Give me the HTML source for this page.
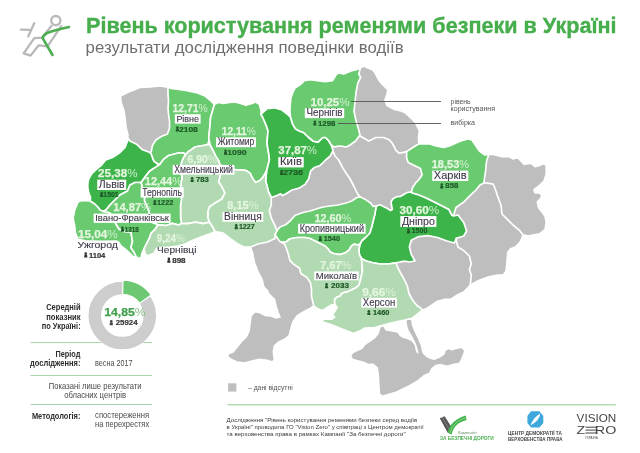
<!DOCTYPE html><html><head><meta charset="utf-8"><title>Рівень користування ременями безпеки в Україні</title>
<style>html,body{margin:0;padding:0;background:#fff;width:640px;height:453px;overflow:hidden}svg{display:block}text{font-family:"Liberation Sans","DejaVu Sans",sans-serif}</style></head><body>
<svg width="640" height="453" viewBox="0 0 640 453">
<rect width="640" height="453" fill="#fff"/>
<g fill="none" stroke-linecap="round" stroke-linejoin="round">
<circle cx="55.8" cy="20.6" r="4.6" stroke="#b9b9b9" stroke-width="2.3"/>
<path d="M51.4,26 L42,37.6 L34.3,38.1 L23.6,53.4 L30.6,55.6 L38.7,45.3 L47.5,46.4 L61.2,26.2" stroke="#b9b9b9" stroke-width="2.3"/>
<path d="M20.8,29.6 L29.6,29.8 M34.2,23.2 L28.2,36.4" stroke="#b9b9b9" stroke-width="2.3"/>
<path d="M69,27 Q55,30 47,33 Q43.5,35 42.5,37.8 L52.5,55" stroke="#4cae50" stroke-width="2.6"/>
</g>
<text x="86" y="33.2" font-size="21.6" font-weight="bold" fill="#46ae4c" stroke="#46ae4c" stroke-width="0.35" textLength="530.5" lengthAdjust="spacingAndGlyphs">Рівень користування ременями безпеки в Україні</text>
<text x="85.6" y="53.1" font-size="16.4" fill="#6e6e6e" textLength="318" lengthAdjust="spacingAndGlyphs">результати дослідження поведінки водіїв</text>
<g stroke="#fff" stroke-width="1.7" stroke-linejoin="round">
<polygon points="121,102.5 120.5,96 127.5,92.5 135,89.5 140,87.5 150,87 160,86 166.5,87 171,88.4 178.75,89.4 186,90.3 197.5,93 205,96 210.6,100.6 214.4,104.4 218,102.5 223.75,103.4 229.4,102.5 235,102 240.6,103.4 246,105.3 252,103.4 255.6,102 259.4,104.4 261,110 262,114 267,108.75 274.4,107.8 282,110 287.5,114.4 290.5,117 290,112 290,107 291,97.5 293,92 295,88 300.6,84.4 304.4,80.6 310,79.7 317.5,80.6 325,81.6 332.5,80.6 336,75 338,73 343.75,74 351,71 357,69.4 360.6,67.5 364.4,66.25 368,68 372.8,70 375.6,73.75 378.4,79.4 381,83 385,87 387.8,89.7 387,94.4 385,100 387,105.6 394.4,109.4 402,111.25 405.6,113 409.4,116.5 412,119 415.6,123 419.4,130.6 418.4,138 419,143.9 423.6,143.9 430,144 436,146 443.75,147.5 449.4,146 455,143.5 460.6,141 468,139 472,140 475.6,145.6 479.4,151 485,155 488.8,154.4 493.25,154.4 502,156.6 508.7,156.6 513,158.8 517.5,157.7 521,161 524,164.3 530.8,163.2 535.2,166.6 539.6,165.5 544,163.2 546.2,165.5 546.2,174.3 544,181 539.6,185.3 534,189.7 535.2,193 539.6,193 541.8,195.25 540.7,198.6 537.4,201.9 538.5,207.4 541.8,211.8 545.1,216.2 546.2,222.8 545.1,229.5 539.6,233.9 533,235 528.6,236.1 524.15,235 522,238.3 519.7,242.7 515.3,247 510.6,248.75 507.8,252.5 507,262 506,271.25 503,275 497.5,275 488,277 478.75,280.6 471.25,284.4 469.4,286 463.75,292 456.25,295.6 450.6,299.4 445,299.4 437.5,301.25 432,305 426.25,308.75 422.5,310 417,314.5 412.5,318 405,320 397.5,321.5 390,323.3 382.5,325.3 375,327.5 365,328 359,331.4 353.5,333.6 348,331.4 342.5,329.2 337,327 331.4,324.7 326,323 321.5,321.4 323.7,319.2 331.4,319.2 334.7,317 332.5,314.8 335.8,309.8 337,307 334.7,304.9 331.4,304.9 328,307 324.8,309.3 321.5,310.4 317,308.2 313.8,306 310.5,308.2 306,310.4 300.5,313.7 297,316 293,322 291.25,327.5 289.4,335 285.6,338.75 282,340.6 278,342.5 274.4,346 273.4,352 274.4,359.4 272.5,362 267,360.3 259.4,359.4 252,361 244.4,363 237,362 231.25,359.4 227.5,356.6 228.4,353.75 233,352 237.8,346 240.6,342.5 246,337 249,331 250,323.75 251,316 254.7,311.6 259.4,312.5 265,315.3 270.6,316 276.25,318 280,317 278,312.5 276.25,307 274.4,299.4 268.75,293.75 266.9,290 263.75,287 262,279.4 258,272 254.4,262.5 252.5,253 250.6,247.5 244,247 237,243.5 230,238.5 223,233 215,231.5 211.6,233.3 205,235.5 197,238.5 190,241.5 185,244 178,246 170,247 162,247.5 157,248 154,253 148.3,255.8 145.5,254.4 144,249 142,253 141.25,257.2 138.4,258.6 136,256.5 133.3,256.8 130.2,253.7 125.6,249.5 121,246 118.5,242 116.5,241 100.9,241.3 85.4,240.8 78,239.3 75.5,233 74.6,225.9 73.1,218.2 74.6,210.4 77.7,202.7 79.3,201.2 83.9,200.4 90,201 90.6,197.5 88.75,192.8 87.8,188 87.8,183.4 88.75,178.75 91.6,174 96.25,169.4 101,165.6 105.6,160 112.5,157.5 120,152.5 125,147.5 127.5,141 127.4,137.3 128,135 126,127.5 125,117.5 123.75,110" fill="#bebebe"/>
<polygon points="380.5,326.4 383.75,325.75 386,329.7 392.5,330.8 398,331.9 400.2,335.2 403.4,337.3 407.8,338.4 412.2,340.6 415.5,345 416.6,350.5 417.7,352.7 416.6,348.3 414.6,342.8 411.2,336.25 407.9,330.8 406.3,325.3 405.6,321 407.3,318.6 411.8,319.2 412.7,325.3 415.4,331.9 418.7,338.4 421.4,345 423.1,352.7 427.5,357 434,359.2 439.5,357 444,353.75 445,350.5 448.3,348.3 451.6,349.8 456,348.3 461.4,347.2 465.1,350.5 463.6,354.8 461.4,360.3 459.2,363.6 452.7,364.7 447.2,366.4 440.6,364.7 435.2,365.8 431.9,369 429.7,373.4 424.2,375.6 417.7,381.1 410,385.5 403.4,388.75 396.9,392 389.2,394.2 382.7,396.4 379.4,394.2 378.9,386.6 378.3,375.6 377.2,368 372.8,364.25 368.4,364.7 364.1,362.5 357.5,360.75 352,359.2 350.5,354.8 354.2,351.6 361.9,348.3 365.2,343.9 370.6,340.6 375,337.3 378.3,333 379.4,328.6" fill="#bebebe"/>
<polygon points="168,87 171,88.4 178.75,89.4 186,90.3 197.5,93 205,96 210.6,100.6 214.4,104.4 213.4,108 210.6,117.5 209.7,128.75 208.75,138 209,140 208,144.4 204.4,145.3 198.75,146.25 195,147 191.7,149.4 188.1,151.8 185.7,154.3 183.3,153 178.4,153 173.5,154.3 168.7,155.5 163.8,159.1 160.2,164 157.8,164 154.1,161.6 152.9,159.1 151.7,155.5 150.5,153 151.5,150.7 152.4,145.4 155.9,140 161.2,136.5 167.5,134 169.5,128 169.5,121 168.5,114 168,108 168.5,101 168,94" fill="#69ca70"/>
<polygon points="214.4,104.4 218,102.5 223.75,103.4 229.4,102.5 235,102 240.6,103.4 246,105.3 252,103.4 255.6,102 259.4,104.4 261,110 261,114 262.8,117.5 264.8,122 266.8,127 268,131 267.5,137 267,143 268,149.5 269,155.6 269.4,160 268,165.5 266.6,171 264,175.5 262,178.4 259.3,181 255.3,182.4 252.7,178.4 250,173.1 246,170.5 240.8,169.8 235.5,169.8 230,168 225,166 222,166.5 219.6,163.8 218.2,159.9 215.6,155.9 213,150.6 210.3,145.3 209,140 208.75,138 209.7,128.75 210.6,117.5 213.4,108" fill="#69ca70"/>
<polygon points="261,114 267,108.75 274.4,107.8 282,110 287.5,114.4 290.5,117 292.8,124.4 295.6,129 299.4,131 304,132.8 308.75,137.5 313.4,141.25 318,142.2 322.8,137.5 325.6,137.5 328.4,140.3 331.25,145 333,150.6 330.3,156 325.6,160 320,165.6 314.4,167.5 310.6,171 308.75,178.75 305,184.4 299.4,188 292,190 286,193.75 282.5,195.6 280.6,193.75 277,195.6 271.25,197.5 268.5,192 267,186 265.6,180.6 266.6,171 268,165.5 269.4,160 269,155.6 268,149.5 267,143 267.5,137 268,131 266.8,127 264.8,122 262.8,117.5" fill="#3db44a"/>
<polygon points="290.5,117 290,112 290,107 291,97.5 293,92 295,88 300.6,84.4 304.4,80.6 310,79.7 317.5,80.6 325,81.6 332.5,80.6 336,75 338,73 343.75,74 351,71 357,69.4 360.6,67.5 358.75,73.75 360.6,77.5 357.8,83 356,92.5 355,102 354,111 356,120.6 358.75,130 360,135 355.6,141 350,145 346.25,147 340.6,146 337,146.4 334,147 331.25,145 328.4,140.3 325.6,137.5 322.8,137.5 318,142.2 313.4,141.25 308.75,137.5 304,132.8 299.4,131 295.6,129 292.8,124.4" fill="#69ca70"/>
<polygon points="406.6,151.6 411.3,148.5 415.9,145.5 419,143.9 423.6,143.9 430,144 436,146 443.75,147.5 449.4,146 455,143.5 460.6,141 468,139 472,140 475.6,145.6 479.4,151 485,155 488.8,154.4 486.6,161 485.5,172 484.4,178.7 484,183 480,185 476,190 471.25,194.4 463.75,202 456,207.5 453.4,216 451.6,215 448.75,209.4 441,205.6 432,201 426,198 418.75,195 412,193 411.3,191.8 412.8,187.2 415.9,182.6 419,179.5 422.1,174.8 420.5,168.6 414.4,165.5 408.2,162.5 406.6,157.8" fill="#69ca70"/>
<polygon points="376.4,206 380,204.8 383.5,206.4 387,208.2 390.6,210.4 392.4,209.5 391.5,205.3 391,201.8 393.3,198.5 396.8,196.7 400.3,196.5 403,194.9 405.6,193.3 408.3,192.3 411.3,191.8 412,193 418.75,195 426,198 432,201 441,205.6 448.75,209.4 451.6,215 453.4,216 458,215 463.75,222.5 466.6,231 463.75,236 456.25,238.4 454.4,243 447,241 437.5,237.5 428,235.6 418.75,236.6 411.25,240.3 409.4,247 411.25,254.4 415,261 409.4,262 404.5,261.2 396,262.8 388,264 380,264 372,262.5 366,261 361.5,258.5 359.5,255 358.8,250 360,244 362,240.5 366,237 369.8,233 371.4,228.1 373,221.5 374.7,214.9 375.6,209.7" fill="#3db44a"/>
<polygon points="275,234.5 277,230.6 280,227 286,224.5 291,220 295,215.5 300,213.5 305,212 310,211 317,208.75 323,207 330,206 338,205 346,203 351.2,201.2 356.5,197.7 360,196.8 365.3,199.4 370.6,203 373,206.3 376.4,206 375.6,209.7 374.7,214.9 373,221.5 371.4,228.1 369.8,233 366,237 362,240.5 360,244 357.7,245 354.2,244.1 351.5,245.9 348.9,250.3 345.3,252.8 340.9,254.3 337.4,254.3 333.8,253.5 330.3,252.1 327.7,248.6 325,246 320,243.5 315,241 310,238.5 305,237.5 297.5,237.5 290,238.75 286,242 280.6,242 278.75,240" fill="#69ca70"/>
<polygon points="280.6,242 286,242 290,238.75 297.5,237.5 305,237.5 310,238.5 315,241 320,243.5 325,246 327.7,248.6 330.3,252.1 333.8,253.5 337.4,254.3 340.9,254.3 345.3,252.8 348.9,250.3 351.5,245.9 354.2,244.1 357.7,245 360,244 358.8,250 359.5,255 361.5,258.5 362,265 362.5,270.3 361,278 359,285 356.8,287.2 352.4,289.4 348,291.6 343.6,292.7 341.4,293.8 340.25,296 337,297.1 334.7,299.3 334.7,304.9 331.4,304.9 328,307 324.8,309.3 321.5,310.4 317,308.2 313.8,306 312.7,301.6 311.5,296 311.5,290 310.6,283 307,277.5 301,273.75 299.4,268 293.75,264.4 290,260.6 288,253 286,247.5 284.4,243.75" fill="#b2dab2"/>
<polygon points="361.5,258.5 366,261 372,262.5 380,264 388,264 396,262.8 398,268 400,272 403.75,278.5 407.3,286 409,293.5 413,300.8 417,305.5 420.6,308 422.5,310 417,314.5 412.5,318 405,320 397.5,321.5 390,323.3 382.5,325.3 375,327.5 365,328 359,331.4 353.5,333.6 348,331.4 342.5,329.2 337,327 331.4,324.7 326,323 321.5,321.4 323.7,319.2 331.4,319.2 334.7,317 332.5,314.8 335.8,309.8 337,307 334.7,304.9 334.7,299.3 337,297.1 340.25,296 341.4,293.8 343.6,292.7 348,291.6 352.4,289.4 356.8,287.2 359,285 361,278 362.5,270.3 362,265" fill="#b2dab2"/>
<polygon points="222,166.5 225,166 230,168 235.5,169.8 240.8,169.8 246,170.5 250,173.1 252.7,178.4 255.3,182.4 259.3,181 262,178.4 264,175.5 266.6,171 265.6,180.6 267,186 268.5,192 271.25,197.5 271.25,205 269.4,210.6 271.25,218 275,225.6 277,230.6 275,234.5 275,238.5 267.5,242 258,244 250.6,247 244,247 237,243.5 230,238.5 223,233 215,231.5 212,226 209.4,222.2 207.8,217.5 207.8,211.4 209.4,206.7 214,203.6 221.7,199 224.8,192.8 221.7,186.6 218.6,182 220.2,175.8 221,171" fill="#b2dab2"/>
<polygon points="185.7,154.3 188.1,151.8 191.7,149.4 195,147 198.75,146.25 204.4,145.3 208,144.4 210.3,145.3 213,150.6 215.6,155.9 218.2,159.9 219.6,163.8 222,166.5 221,171 220.2,175.8 218.6,182 221.7,186.6 224.8,192.8 221.7,199 214,203.6 209.4,206.7 207.8,211.4 207.8,217.5 209.4,222.2 203.2,223.7 195.5,222.2 187.7,223.7 181.5,223.5 180.6,217.5 180.5,206 181.5,198.75 181,191 180.5,185.6 182,178 181,172.5 180,167 182,161 183.3,157.9" fill="#b2dab2"/>
<polygon points="160.2,164 163.8,159.1 168.7,155.5 173.5,154.3 178.4,153 183.3,153 185.7,154.3 183.3,157.9 182,161 180,167 181,172.5 182,178 180.5,185.6 181,191 181.5,198.75 180.5,206 180.6,217.5 181.5,223.5 178.75,225 172.2,223.4 166.6,225.5 158,224.8 156,224 152,222.4 150,217 148.8,211.4 146.6,206 144.4,200.5 144.5,195 142.5,188 141,182.5 145.6,176.1 149.3,171.3 152.9,168.8 156.6,166.4" fill="#69ca70"/>
<polygon points="127.4,137.3 129.9,140.9 137.1,144.6 142,149.4 148,151.8 150.5,153 151.7,155.5 152.9,159.1 154.1,161.6 157.8,164 160.2,164 156.6,166.4 152.9,168.8 149.3,171.3 145.6,176.1 141,182.5 135,182.5 130,185 127.5,191 120,195 115,200 110,205 106,210 103,211.5 100,210 97.8,207 94.7,204 90,201 90.6,197.5 88.75,192.8 87.8,188 87.8,183.4 88.75,178.75 91.6,174 96.25,169.4 101,165.6 105.6,160 112.5,157.5 120,152.5 125,147.5 127.5,141" fill="#3db44a"/>
<polygon points="79.3,201.2 83.9,200.4 90,201 94.7,204 97.8,207 100,210 103,211.5 107,212 110,213 113,218 116,224 119,229 124,231.5 130.9,232 132.5,241.4 130.9,247.5 134,252.2 136,256.5 133.3,256.8 130.2,253.7 125.6,249.5 121,246 118.5,242 116.5,241 100.9,241.3 85.4,240.8 78,239.3 75.5,233 74.6,225.9 73.1,218.2 74.6,210.4 77.7,202.7" fill="#69ca70"/>
<polygon points="103,211.5 106,210 110,205 115,200 120,195 127.5,191 130,185 135,182.5 141,182.5 142.5,188 144.5,195 144.4,200.5 146.6,206 148.8,211.4 150,217 152,222.4 156,224 158,224.8 155.3,229 151,233.3 149.7,237.5 146.9,243 144,248.75 142,253 141.25,257.2 138.4,258.6 136,256.5 134,252.2 130.9,247.5 132.5,241.4 130.9,232 124,231.5 119,229 116,224 113,218 110,213 107,212" fill="#69ca70"/>
<polygon points="158,224.8 166.6,225.5 172.2,223.4 178.75,225 181.5,223.5 187.7,223.7 195.5,222.2 203.2,223.7 209.4,222.2 212,226 215,231.5 211.6,233.3 205,235.5 197,238.5 190,241.5 185,244 178,246 170,247 162,247.5 157,248 154,253 148.3,255.8 145.5,254.4 144,249 146.9,243 149.7,237.5 151,233.3 155.3,229" fill="#b2dab2"/>
</g>
<g fill="none" stroke="#fff" stroke-width="1.7" stroke-linejoin="round" stroke-linecap="round">
<polyline points="360,136 368.75,141 376,137.5 383.75,137.5 389.5,140 392.7,143.9 395.8,150.1 398.9,153.2 403.5,152.4 406.6,151.6"/>
<polyline points="333,151 335,156 338.75,160 342.5,167.5 346,173 350,178.75 353.75,186 357.5,193.75 360,196.8"/>
<polyline points="456.25,238.4 456.25,241 458,247 463.75,250.6 469.4,256 471.25,263.75 469.4,269.4 471.25,275 470.3,285"/>
<polyline points="484,183 486.6,183 493.25,184.2 495.5,189.7 497.7,196.4 501,205.2 502,214 508.7,220.6 513,225 519.7,230.6 523,235 522,238.3"/>
</g>
<path d="M351,101.5 H441 M338,123.5 H441" stroke="#555" stroke-width="0.9"/>
<text x="450.6" y="103.8" font-size="7" fill="#555" textLength="20" lengthAdjust="spacingAndGlyphs">рівень</text>
<text x="450.6" y="111.3" font-size="7" fill="#555" textLength="44.4" lengthAdjust="spacingAndGlyphs">користування</text>
<text x="450.6" y="125.2" font-size="7" fill="#555" textLength="24.4" lengthAdjust="spacingAndGlyphs">вибірка</text>
<rect x="174.8" y="114.2" width="25.80" height="9.40" fill="#fff"/>
<text x="176.40" y="121.72" font-size="9.87" fill="#3f3a49" stroke="#3f3a49" stroke-width="0.12" textLength="22.60" lengthAdjust="spacingAndGlyphs">Рівне</text>
<text x="172.5" y="111.9" font-size="11" fill="#e3f6de" stroke="#e3f6de" stroke-width="0.25" textLength="35.10" lengthAdjust="spacingAndGlyphs"><tspan font-weight="bold">12,71</tspan><tspan font-weight="normal" stroke-width="0" fill-opacity="0.85">%</tspan></text>
<circle cx="177.36" cy="127.60" r="1.30" fill="#1f5a28"/><path d="M175.80,131.50 L175.80,129.84 Q175.80,128.59 177.36,128.59 Q178.92,128.59 178.92,129.84 L178.92,131.50 Z" fill="#1f5a28"/>
<text x="179" y="131.5" font-size="7" font-weight="bold" fill="#1f5a28" stroke="#1f5a28" stroke-width="0.2" textLength="18.80" lengthAdjust="spacingAndGlyphs">2108</text>
<rect x="216.1" y="137.3" width="39.80" height="9.90" fill="#fff"/>
<text x="217.70" y="145.22" font-size="10.39" fill="#3f3a49" stroke="#3f3a49" stroke-width="0.12" textLength="36.60" lengthAdjust="spacingAndGlyphs">Житомир</text>
<text x="221.7" y="135" font-size="11" fill="#e3f6de" stroke="#e3f6de" stroke-width="0.25" textLength="34.20" lengthAdjust="spacingAndGlyphs"><tspan font-weight="bold">12,11</tspan><tspan font-weight="normal" stroke-width="0" fill-opacity="0.85">%</tspan></text>
<circle cx="225.56" cy="150.80" r="1.30" fill="#1f5a28"/><path d="M224.00,154.70 L224.00,153.04 Q224.00,151.79 225.56,151.79 Q227.12,151.79 227.12,153.04 L227.12,154.70 Z" fill="#1f5a28"/>
<text x="227.3" y="154.7" font-size="7" font-weight="bold" fill="#1f5a28" stroke="#1f5a28" stroke-width="0.2" textLength="19.20" lengthAdjust="spacingAndGlyphs">1090</text>
<rect x="278.3" y="157.1" width="25.40" height="10.30" fill="#fff"/>
<text x="279.90" y="165.34" font-size="10.82" fill="#3f3a49" stroke="#3f3a49" stroke-width="0.12" textLength="22.20" lengthAdjust="spacingAndGlyphs">Київ</text>
<text x="278.3" y="154.3" font-size="11" fill="#e3f6de" stroke="#e3f6de" stroke-width="0.25" textLength="38.70" lengthAdjust="spacingAndGlyphs"><tspan font-weight="bold">37,87</tspan><tspan font-weight="normal" stroke-width="0" fill-opacity="0.85">%</tspan></text>
<circle cx="281.56" cy="171.10" r="1.30" fill="#1f5a28"/><path d="M280.00,175.00 L280.00,173.34 Q280.00,172.09 281.56,172.09 Q283.12,172.09 283.12,173.34 L283.12,175.00 Z" fill="#1f5a28"/>
<text x="283" y="175" font-size="7" font-weight="bold" fill="#1f5a28" stroke="#1f5a28" stroke-width="0.2" textLength="20.00" lengthAdjust="spacingAndGlyphs">2736</text>
<rect x="304.8" y="108.3" width="39.40" height="9.80" fill="#fff"/>
<text x="306.40" y="116.14" font-size="10.29" fill="#3f3a49" stroke="#3f3a49" stroke-width="0.12" textLength="36.20" lengthAdjust="spacingAndGlyphs">Чернігів</text>
<text x="310.5" y="105.9" font-size="11" fill="#e3f6de" stroke="#e3f6de" stroke-width="0.25" textLength="38.90" lengthAdjust="spacingAndGlyphs"><tspan font-weight="bold">10,25</tspan><tspan font-weight="normal" stroke-width="0" fill-opacity="0.85">%</tspan></text>
<circle cx="314.86" cy="121.70" r="1.30" fill="#1f5a28"/><path d="M313.30,125.60 L313.30,123.94 Q313.30,122.69 314.86,122.69 Q316.42,122.69 316.42,123.94 L316.42,125.60 Z" fill="#1f5a28"/>
<text x="318" y="125.6" font-size="7" font-weight="bold" fill="#1f5a28" stroke="#1f5a28" stroke-width="0.2" textLength="17.30" lengthAdjust="spacingAndGlyphs">1298</text>
<rect x="432.2" y="170.6" width="36.10" height="10.40" fill="#fff"/>
<text x="433.80" y="178.92" font-size="10.92" fill="#3f3a49" stroke="#3f3a49" stroke-width="0.12" textLength="32.90" lengthAdjust="spacingAndGlyphs">Харків</text>
<text x="431.7" y="168.3" font-size="11" fill="#e3f6de" stroke="#e3f6de" stroke-width="0.25" textLength="37.50" lengthAdjust="spacingAndGlyphs"><tspan font-weight="bold">18,53</tspan><tspan font-weight="normal" stroke-width="0" fill-opacity="0.85">%</tspan></text>
<circle cx="441.76" cy="184.50" r="1.30" fill="#1f5a28"/><path d="M440.20,188.40 L440.20,186.74 Q440.20,185.49 441.76,185.49 Q443.32,185.49 443.32,186.74 L443.32,188.40 Z" fill="#1f5a28"/>
<text x="445.3" y="188.4" font-size="7" font-weight="bold" fill="#1f5a28" stroke="#1f5a28" stroke-width="0.2" textLength="13.10" lengthAdjust="spacingAndGlyphs">858</text>
<rect x="400.3" y="216.1" width="36.10" height="10.80" fill="#fff"/>
<text x="401.90" y="224.74" font-size="11.34" fill="#3f3a49" stroke="#3f3a49" stroke-width="0.12" textLength="32.90" lengthAdjust="spacingAndGlyphs">Дніпро</text>
<text x="399.4" y="213.75" font-size="11" fill="#e3f6de" stroke="#e3f6de" stroke-width="0.25" textLength="39.80" lengthAdjust="spacingAndGlyphs"><tspan font-weight="bold">30,60</tspan><tspan font-weight="normal" stroke-width="0" fill-opacity="0.85">%</tspan></text>
<circle cx="408.46" cy="229.50" r="1.30" fill="#1f5a28"/><path d="M406.90,233.40 L406.90,231.74 Q406.90,230.49 408.46,230.49 Q410.02,230.49 410.02,231.74 L410.02,233.40 Z" fill="#1f5a28"/>
<text x="411.6" y="233.4" font-size="7" font-weight="bold" fill="#1f5a28" stroke="#1f5a28" stroke-width="0.2" textLength="15.90" lengthAdjust="spacingAndGlyphs">1500</text>
<rect x="298.1" y="223.75" width="67.50" height="10.00" fill="#fff"/>
<text x="299.70" y="231.75" font-size="10.50" fill="#3f3a49" stroke="#3f3a49" stroke-width="0.12" textLength="64.30" lengthAdjust="spacingAndGlyphs">Кропивницький</text>
<text x="314.4" y="221.9" font-size="11" fill="#e3f6de" stroke="#e3f6de" stroke-width="0.25" textLength="36.85" lengthAdjust="spacingAndGlyphs"><tspan font-weight="bold">12,60</tspan><tspan font-weight="normal" stroke-width="0" fill-opacity="0.85">%</tspan></text>
<circle cx="320.31" cy="237.35" r="1.30" fill="#1f5a28"/><path d="M318.75,241.25 L318.75,239.59 Q318.75,238.34 320.31,238.34 Q321.87,238.34 321.87,239.59 L321.87,241.25 Z" fill="#1f5a28"/>
<text x="323.75" y="241.25" font-size="7" font-weight="bold" fill="#1f5a28" stroke="#1f5a28" stroke-width="0.2" textLength="16.25" lengthAdjust="spacingAndGlyphs">1540</text>
<rect x="314.2" y="271.4" width="44.50" height="8.90" fill="#fff"/>
<text x="315.80" y="278.52" font-size="9.35" fill="#3f3a49" stroke="#3f3a49" stroke-width="0.12" textLength="41.30" lengthAdjust="spacingAndGlyphs">Миколаїв</text>
<text x="320.3" y="268.6" font-size="11" fill="#e3f6de" stroke="#e3f6de" stroke-width="0.25" textLength="30.90" lengthAdjust="spacingAndGlyphs"><tspan font-weight="bold">7,67</tspan><tspan font-weight="normal" stroke-width="0" fill-opacity="0.85">%</tspan></text>
<circle cx="326.56" cy="284.40" r="1.30" fill="#1f5a28"/><path d="M325.00,288.30 L325.00,286.64 Q325.00,285.39 326.56,285.39 Q328.12,285.39 328.12,286.64 L328.12,288.30 Z" fill="#1f5a28"/>
<text x="331.1" y="288.3" font-size="7" font-weight="bold" fill="#1f5a28" stroke="#1f5a28" stroke-width="0.2" textLength="17.80" lengthAdjust="spacingAndGlyphs">2033</text>
<rect x="361.25" y="297.8" width="35.65" height="9.80" fill="#fff"/>
<text x="362.85" y="305.64" font-size="10.29" fill="#3f3a49" stroke="#3f3a49" stroke-width="0.12" textLength="32.45" lengthAdjust="spacingAndGlyphs">Херсон</text>
<text x="362.2" y="295.5" font-size="11" fill="#e3f6de" stroke="#e3f6de" stroke-width="0.25" textLength="33.70" lengthAdjust="spacingAndGlyphs"><tspan font-weight="bold">9,66</tspan><tspan font-weight="normal" stroke-width="0" fill-opacity="0.85">%</tspan></text>
<circle cx="368.86" cy="311.20" r="1.30" fill="#1f5a28"/><path d="M367.30,315.10 L367.30,313.44 Q367.30,312.19 368.86,312.19 Q370.42,312.19 370.42,313.44 L370.42,315.10 Z" fill="#1f5a28"/>
<text x="373" y="315.1" font-size="7" font-weight="bold" fill="#1f5a28" stroke="#1f5a28" stroke-width="0.2" textLength="16.40" lengthAdjust="spacingAndGlyphs">1460</text>
<rect x="222.5" y="211.9" width="40.80" height="9.80" fill="#fff"/>
<text x="224.10" y="219.74" font-size="10.29" fill="#3f3a49" stroke="#3f3a49" stroke-width="0.12" textLength="37.60" lengthAdjust="spacingAndGlyphs">Вінниця</text>
<text x="227.2" y="209" font-size="11" fill="#e3f6de" stroke="#e3f6de" stroke-width="0.25" textLength="31.40" lengthAdjust="spacingAndGlyphs"><tspan font-weight="bold">8,15</tspan><tspan font-weight="normal" stroke-width="0" fill-opacity="0.85">%</tspan></text>
<circle cx="236.26" cy="225.30" r="1.30" fill="#1f5a28"/><path d="M234.70,229.20 L234.70,227.54 Q234.70,226.29 236.26,226.29 Q237.82,226.29 237.82,227.54 L237.82,229.20 Z" fill="#1f5a28"/>
<text x="238.9" y="229.2" font-size="7" font-weight="bold" fill="#1f5a28" stroke="#1f5a28" stroke-width="0.2" textLength="15.90" lengthAdjust="spacingAndGlyphs">1227</text>
<rect x="172.7" y="164.9" width="61.80" height="9.70" fill="#fff"/>
<text x="174.30" y="172.66" font-size="10.18" fill="#3f3a49" stroke="#3f3a49" stroke-width="0.12" textLength="58.60" lengthAdjust="spacingAndGlyphs">Хмельницький</text>
<text x="187.5" y="163.1" font-size="11" fill="#e3f6de" stroke="#e3f6de" stroke-width="0.25" textLength="29.60" lengthAdjust="spacingAndGlyphs"><tspan font-weight="bold">6,90</tspan><tspan font-weight="normal" stroke-width="0" fill-opacity="0.85">%</tspan></text>
<circle cx="192.16" cy="178.20" r="1.30" fill="#1f5a28"/><path d="M190.60,182.10 L190.60,180.44 Q190.60,179.19 192.16,179.19 Q193.72,179.19 193.72,180.44 L193.72,182.10 Z" fill="#1f5a28"/>
<text x="195.9" y="182.1" font-size="7" font-weight="bold" fill="#1f5a28" stroke="#1f5a28" stroke-width="0.2" textLength="12.80" lengthAdjust="spacingAndGlyphs">783</text>
<rect x="140.6" y="187.3" width="43.10" height="10.30" fill="#fff"/>
<text x="142.20" y="195.54" font-size="10.81" fill="#3f3a49" stroke="#3f3a49" stroke-width="0.12" textLength="39.90" lengthAdjust="spacingAndGlyphs">Тернопіль</text>
<text x="144.8" y="185" font-size="11" fill="#e3f6de" stroke="#e3f6de" stroke-width="0.25" textLength="37.10" lengthAdjust="spacingAndGlyphs"><tspan font-weight="bold">12,44</tspan><tspan font-weight="normal" stroke-width="0" fill-opacity="0.85">%</tspan></text>
<circle cx="154.86" cy="201.20" r="1.30" fill="#1f5a28"/><path d="M153.30,205.10 L153.30,203.44 Q153.30,202.19 154.86,202.19 Q156.42,202.19 156.42,203.44 L156.42,205.10 Z" fill="#1f5a28"/>
<text x="157" y="205.1" font-size="7" font-weight="bold" fill="#1f5a28" stroke="#1f5a28" stroke-width="0.2" textLength="16.40" lengthAdjust="spacingAndGlyphs">1222</text>
<rect x="97.2" y="179.7" width="29.00" height="10.30" fill="#fff"/>
<text x="98.80" y="187.94" font-size="10.82" fill="#3f3a49" stroke="#3f3a49" stroke-width="0.12" textLength="25.80" lengthAdjust="spacingAndGlyphs">Львів</text>
<text x="98.1" y="177.3" font-size="11" fill="#e3f6de" stroke="#e3f6de" stroke-width="0.25" textLength="39.40" lengthAdjust="spacingAndGlyphs"><tspan font-weight="bold">25,38</tspan><tspan font-weight="normal" stroke-width="0" fill-opacity="0.85">%</tspan></text>
<circle cx="101.56" cy="193.10" r="1.30" fill="#1f5a28"/><path d="M100.00,197.00 L100.00,195.34 Q100.00,194.09 101.56,194.09 Q103.12,194.09 103.12,195.34 L103.12,197.00 Z" fill="#1f5a28"/>
<text x="103.3" y="197" font-size="7" font-weight="bold" fill="#1f5a28" stroke="#1f5a28" stroke-width="0.2" textLength="15.40" lengthAdjust="spacingAndGlyphs">1501</text>
<rect x="93.6" y="213.6" width="77.00" height="9.30" fill="#fff"/>
<text x="95.20" y="221.04" font-size="9.77" fill="#3f3a49" stroke="#3f3a49" stroke-width="0.12" textLength="73.80" lengthAdjust="spacingAndGlyphs">Івано-Франківськ</text>
<text x="113.2" y="211.4" font-size="11" fill="#e3f6de" stroke="#e3f6de" stroke-width="0.25" textLength="37.80" lengthAdjust="spacingAndGlyphs"><tspan font-weight="bold">14,87</tspan><tspan font-weight="normal" stroke-width="0" fill-opacity="0.85">%</tspan></text>
<circle cx="122.46" cy="227.80" r="1.30" fill="#1f5a28"/><path d="M120.90,231.70 L120.90,230.04 Q120.90,228.79 122.46,228.79 Q124.02,228.79 124.02,230.04 L124.02,231.70 Z" fill="#1f5a28"/>
<text x="124.7" y="231.7" font-size="7" font-weight="bold" fill="#1f5a28" stroke="#1f5a28" stroke-width="0.2" textLength="14.20" lengthAdjust="spacingAndGlyphs">1318</text>
<text x="77.60" y="248.10" font-size="9.97" fill="#3f3a49" stroke="#3f3a49" stroke-width="0.12" textLength="40.30" lengthAdjust="spacingAndGlyphs">Ужгород</text>
<text x="78" y="238" font-size="11" fill="#e3f6de" stroke="#e3f6de" stroke-width="0.25" textLength="39.80" lengthAdjust="spacingAndGlyphs"><tspan font-weight="bold">15,04</tspan><tspan font-weight="normal" stroke-width="0" fill-opacity="0.85">%</tspan></text>
<circle cx="85.76" cy="253.60" r="1.30" fill="#333"/><path d="M84.20,257.50 L84.20,255.84 Q84.20,254.59 85.76,254.59 Q87.32,254.59 87.32,255.84 L87.32,257.50 Z" fill="#333"/>
<text x="88.9" y="257.5" font-size="7" font-weight="bold" fill="#333" stroke="#333" stroke-width="0.2" textLength="16.40" lengthAdjust="spacingAndGlyphs">1104</text>
<text x="157.10" y="252.60" font-size="9.97" fill="#3f3a49" stroke="#3f3a49" stroke-width="0.12" textLength="39.30" lengthAdjust="spacingAndGlyphs">Чернівці</text>
<text x="156.7" y="242.4" font-size="11" fill="#e3f6de" stroke="#e3f6de" stroke-width="0.25" textLength="28.20" lengthAdjust="spacingAndGlyphs"><tspan font-weight="bold">9,24</tspan><tspan font-weight="normal" stroke-width="0" fill-opacity="0.85">%</tspan></text>
<circle cx="168.86" cy="258.90" r="1.30" fill="#333"/><path d="M167.30,262.80 L167.30,261.14 Q167.30,259.89 168.86,259.89 Q170.42,259.89 170.42,261.14 L170.42,262.80 Z" fill="#333"/>
<text x="172.2" y="262.8" font-size="7" font-weight="bold" fill="#333" stroke="#333" stroke-width="0.2" textLength="13.40" lengthAdjust="spacingAndGlyphs">898</text>
<path d="M30.5,342.5 H152 M30.5,375.5 H152 M30.5,404.5 H152" stroke="#a9d8a8" stroke-width="1.2"/>
<circle cx="122.3" cy="315.6" r="34" fill="#fff"/>
<circle cx="122.3" cy="315.6" r="27.5" fill="none" stroke="#cdcdcd" stroke-width="12.5"/>
<path d="M122.92,280.11 A35.5,35.5 0 0 1 151.20,294.99 L139.64,303.23 A21.3,21.3 0 0 0 122.67,294.30 Z" fill="#6cc872" stroke="#fff" stroke-width="1.2"/>
<text x="104.2" y="315.8" font-size="11.8" fill="#41a04d" textLength="41.6" lengthAdjust="spacingAndGlyphs"><tspan font-weight="bold" stroke="#41a04d" stroke-width="0.25">14,85</tspan><tspan font-weight="normal" fill="#86bf8c">%</tspan></text>
<circle cx="111.26" cy="321.30" r="1.30" fill="#444"/><path d="M109.70,325.20 L109.70,323.54 Q109.70,322.29 111.26,322.29 Q112.82,322.29 112.82,323.54 L112.82,325.20 Z" fill="#444"/>
<text x="115.7" y="325.3" font-size="7.6" font-weight="bold" fill="#383838" stroke="#383838" stroke-width="0.2" textLength="21.9" lengthAdjust="spacingAndGlyphs">25924</text>
<g font-size="8.4" font-weight="bold" fill="#2b2b2b" text-anchor="end">
<text x="80.6" y="310.1" textLength="34.4" lengthAdjust="spacingAndGlyphs">Середній</text><text x="80.6" y="319.5" textLength="34.4" lengthAdjust="spacingAndGlyphs">показник</text><text x="80.6" y="328.7" textLength="38.8" lengthAdjust="spacingAndGlyphs">по Україні:</text>
<text x="80.4" y="357.2" textLength="24.9" lengthAdjust="spacingAndGlyphs">Період</text><text x="80.4" y="366.1" textLength="50.3" lengthAdjust="spacingAndGlyphs">дослідження:</text>
<text x="80.4" y="419.1" textLength="48.5" lengthAdjust="spacingAndGlyphs">Методологія:</text>
</g>
<g font-size="8.4" fill="#4a4a4a">
<text x="95.1" y="366" textLength="37.5" lengthAdjust="spacingAndGlyphs">весна 2017</text>
<text x="95.2" y="389.2" text-anchor="middle" textLength="92.7" lengthAdjust="spacingAndGlyphs">Показані лише результати</text>
<text x="95.1" y="397.5" text-anchor="middle" textLength="61.8" lengthAdjust="spacingAndGlyphs">обласних центрів</text>
<text x="95.1" y="417.9" textLength="54.1" lengthAdjust="spacingAndGlyphs">спостереження</text>
<text x="95.1" y="427.2" textLength="54.1" lengthAdjust="spacingAndGlyphs">на перехрестях</text>
</g>
<rect x="228.1" y="383.3" width="8.3" height="8.3" fill="#bebebe"/>
<text x="248" y="389.6" font-size="7" fill="#555" textLength="44.7" lengthAdjust="spacingAndGlyphs">– дані відсутні</text>
<path d="M227.5,404.8 H615.8" stroke="#b5dbb3" stroke-width="1.5"/>
<g font-size="6.2" fill="#3b3b3b">
<text x="226.6" y="421.7" textLength="190.6" lengthAdjust="spacingAndGlyphs">Дослідження "Рівень користування ременями безпеки серед водіїв</text>
<text x="226.6" y="429.1" textLength="197" lengthAdjust="spacingAndGlyphs">в Україні" проводила ГО "Vision Zero" у співпраці з Центром демократії</text>
<text x="226.6" y="436.3" textLength="179" lengthAdjust="spacingAndGlyphs">та верховенства права в рамках Кампанії "За безпечні дороги"</text>
</g>
<path d="M439.8,418.3 L444.6,416.2 L452.2,428.2 L450.2,434 L447.6,432.6 Z" fill="#585858"/>
<path d="M442.2,417.3 L450.3,431" stroke="#fff" stroke-width="0.45" stroke-dasharray="1.1,0.9"/>
<path d="M447.6,432.6 Q449.5,424 457,419.5 Q461.5,416.8 465.8,415.6 L466.6,420 Q461.8,421.2 458.4,423.6 Q453.2,427.6 451.6,434.4 Z" fill="#44b34c"/>
<path d="M449.6,433.3 Q451.6,425.5 457.6,421.6 Q461.6,418.8 466.2,417.8" fill="none" stroke="#d9f5d9" stroke-width="0.45"/>
<text x="458" y="433.6" font-size="4" fill="#5d8a5d" textLength="18.5" lengthAdjust="spacingAndGlyphs">Кампанія</text>
<text x="440" y="440.2" font-size="5.6" font-weight="bold" fill="#4cb052" textLength="53.7" lengthAdjust="spacingAndGlyphs">ЗА БЕЗПЕЧНІ ДОРОГИ</text>
<polygon points="531,411.3 539.5,411.3 543.3,416 543.3,423 539.5,427.6 531,427.6 527.4,423 527.4,416" fill="#3ea7dc"/>
<path d="M530.5,425.5 Q533,418 540.5,413.3 Q539,421 532,424.5 Z" fill="#fff"/>
<text x="508" y="435.2" font-size="4.5" font-weight="bold" fill="#444" textLength="53.9" lengthAdjust="spacingAndGlyphs">ЦЕНТР ДЕМОКРАТІЇ ТА</text>
<text x="508" y="440.5" font-size="4.5" font-weight="bold" fill="#444" textLength="54.5" lengthAdjust="spacingAndGlyphs">ВЕРХОВЕНСТВА ПРАВА</text>
<text x="576.6" y="422.1" font-size="10.4" fill="#454545" textLength="39.7" lengthAdjust="spacingAndGlyphs">VISION</text>
<text x="576.6" y="433.8" font-size="10.4" fill="#454545" textLength="39.7" lengthAdjust="spacingAndGlyphs">Z<tspan fill="#fff">E</tspan>RO</text>
<path d="M585.5,427.2 H597.5 M585.5,430.1 H597.5 M585.5,433 H597.5" stroke="#454545" stroke-width="1"/>
<text x="584.9" y="438.5" font-size="2.8" fill="#555" textLength="13" lengthAdjust="spacingAndGlyphs">УКРАЇНА</text>
</svg></body></html>
